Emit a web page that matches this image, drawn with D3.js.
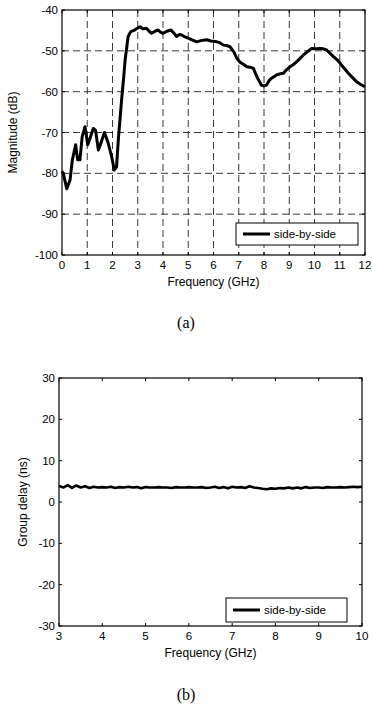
<!DOCTYPE html>
<html>
<head>
<meta charset="utf-8">
<script src="https://cdn.jsdelivr.net/npm/d3@7/dist/d3.min.js"></script>
<style>
  body { margin: 0; background: #fff; }
  svg { display: block; }
  text { font-family: "Liberation Sans", Arial, sans-serif; fill: #000; }
  .cap { font-family: "Liberation Serif", "Times New Roman", serif; }
</style>
</head>
<body>
<svg id="chart" width="372" height="708"></svg>
<script>
// ---- data ----
const magFreq = [0.0, 0.05, 0.19, 0.32, 0.41, 0.54, 0.62, 0.71, 0.80, 0.91, 1.02, 1.11, 1.24, 1.33, 1.44, 1.54, 1.68, 1.83, 1.97, 2.07, 2.16, 2.23, 2.36, 2.45, 2.5, 2.62, 2.72, 2.85, 2.95, 3.09, 3.2, 3.35, 3.45, 3.55, 3.65, 3.81, 3.9, 4.01, 4.15, 4.32, 4.45, 4.54, 4.65, 4.74, 4.87, 5.0, 5.15, 5.33, 5.5, 5.73, 5.9, 6.13, 6.25, 6.39, 6.52, 6.65, 6.8, 6.92, 7.05, 7.18, 7.32, 7.45, 7.58, 7.68, 7.78, 7.9, 7.98, 8.1, 8.2, 8.3, 8.4, 8.5, 8.65, 8.77, 8.9, 9.03, 9.15, 9.29, 9.42, 9.56, 9.7, 9.89, 10.05, 10.22, 10.35, 10.48, 10.6, 10.75, 10.9, 11.01, 11.15, 11.34, 11.5, 11.67, 11.85, 12.0];
const magDb = [-79.5, -80, -83.8, -81.6, -76.7, -73, -76.7, -76.7, -71, -68.6, -73, -71.4, -69, -69.5, -74.3, -72.6, -70, -72.6, -76, -79.2, -78.4, -71.8, -62, -56, -52.2, -46.5, -45.3, -45.0, -44.6, -44.1, -44.6, -44.5, -45.2, -45.7, -45.3, -44.9, -45.4, -45.7, -45.2, -44.9, -45.8, -46.5, -46.0, -46.1, -46.6, -46.9, -47.3, -47.8, -47.5, -47.3, -47.6, -47.8, -48.0, -48.6, -48.7, -49.0, -50.2, -51.8, -52.8, -53.3, -53.9, -54.0, -54.3, -55.8, -57.1, -58.4, -58.6, -58.4, -57.3, -56.7, -56.3, -55.9, -55.6, -55.5, -54.6, -53.9, -53.4, -52.7, -51.9, -51.0, -50.3, -49.4, -49.5, -49.4, -49.5, -49.8, -50.5, -51.4, -52.2, -53.0, -54.1, -55.5, -56.5, -57.6, -58.3, -58.8];

const gdFreq = [3.0, 3.1, 3.2, 3.3, 3.4, 3.5, 3.6, 3.7, 3.8, 3.9,
  4.0, 4.1, 4.2, 4.3, 4.4, 4.5, 4.6, 4.7, 4.8, 4.9,
  5.0, 5.1, 5.2, 5.3, 5.4, 5.5, 5.6, 5.7, 5.8, 5.9,
  6.0, 6.1, 6.2, 6.3, 6.4, 6.5, 6.6, 6.7, 6.8, 6.9,
  7.0, 7.1, 7.2, 7.3, 7.4, 7.5, 7.6, 7.7, 7.8, 7.9,
  8.0, 8.1, 8.2, 8.3, 8.4, 8.5, 8.6, 8.7, 8.8, 8.9,
  9.0, 9.1, 9.2, 9.3, 9.4, 9.5, 9.6, 9.7, 9.8, 9.9, 10.0];
const gdNs = [3.9, 3.5, 4.1, 3.4, 4.0, 3.5, 3.8, 3.4, 3.7, 3.5,
  3.6, 3.5, 3.7, 3.4, 3.6, 3.5, 3.7, 3.5, 3.6, 3.3,
  3.6, 3.5, 3.5, 3.6, 3.5, 3.5, 3.4, 3.6, 3.5, 3.5,
  3.6, 3.5, 3.5, 3.6, 3.4, 3.5, 3.7, 3.4, 3.6, 3.3,
  3.7, 3.5, 3.6, 3.4, 3.8, 3.5, 3.4, 3.2, 3.1, 3.3,
  3.2, 3.4, 3.3, 3.5, 3.3, 3.5, 3.3, 3.6, 3.4, 3.5,
  3.5, 3.4, 3.6, 3.5, 3.5, 3.6, 3.5, 3.6, 3.7, 3.6, 3.7];

const magXTicks = d3.range(0, 13);
const magYTicks = [-100, -90, -80, -70, -60, -50, -40];
const gdXTicks = d3.range(3, 11);
const gdYTicks = [-30, -20, -10, 0, 10, 20, 30];
const legendLabel = "side-by-side";

const svg = d3.select("#chart");

function drawPanel(o) {
  const x = d3.scaleLinear().domain(o.xDomain).range([o.left, o.right]);
  const y = d3.scaleLinear().domain(o.yDomain).range([o.bottom, o.top]);
  const g = svg.append("g");

  // dashed grid
  if (o.grid) {
    g.selectAll(".gx").data(o.xTicks.slice(1, -1)).enter().append("line")
      .attr("x1", d => x(d)).attr("x2", d => x(d))
      .attr("y1", o.top).attr("y2", o.bottom)
      .attr("stroke", "#222").attr("stroke-width", 0.9)
      .attr("stroke-dasharray", "7,4");
    g.selectAll(".gy").data(o.yTicks.slice(1, -1)).enter().append("line")
      .attr("y1", d => y(d)).attr("y2", d => y(d))
      .attr("x1", o.left).attr("x2", o.right)
      .attr("stroke", "#222").attr("stroke-width", 0.9)
      .attr("stroke-dasharray", "7,4");
  }

  // inward ticks on all sides
  const tl = 3;
  o.xTicks.forEach(t => {
    g.append("line").attr("x1", x(t)).attr("x2", x(t)).attr("y1", o.bottom).attr("y2", o.bottom - tl).attr("stroke", "#000");
    g.append("line").attr("x1", x(t)).attr("x2", x(t)).attr("y1", o.top).attr("y2", o.top + tl).attr("stroke", "#000");
  });
  o.yTicks.forEach(t => {
    g.append("line").attr("y1", y(t)).attr("y2", y(t)).attr("x1", o.left).attr("x2", o.left + tl).attr("stroke", "#000");
    g.append("line").attr("y1", y(t)).attr("y2", y(t)).attr("x1", o.right).attr("x2", o.right - tl).attr("stroke", "#000");
  });

  // frame
  g.append("rect").attr("x", o.left).attr("y", o.top)
    .attr("width", o.right - o.left).attr("height", o.bottom - o.top)
    .attr("fill", "none").attr("stroke", "#000").attr("stroke-width", 1.2);

  // tick labels
  g.selectAll(".xl").data(o.xTicks).enter().append("text")
    .attr("x", d => x(d)).attr("y", o.bottom + 14)
    .attr("text-anchor", "middle").style("font-size", "11.5px")
    .text(d => d);
  g.selectAll(".yl").data(o.yTicks).enter().append("text")
    .attr("x", o.left - 4).attr("y", d => y(d) + 4)
    .attr("text-anchor", "end").style("font-size", "11.5px")
    .text(d => d);

  // axis titles
  g.append("text").attr("x", (o.left + o.right) / 2).attr("y", o.bottom + 31)
    .attr("text-anchor", "middle").style("font-size", "12px").text("Frequency (GHz)");
  g.append("text")
    .attr("transform", `translate(${o.yLabelX},${(o.top + o.bottom) / 2}) rotate(-90)`)
    .attr("text-anchor", "middle").style("font-size", "12px").text(o.yLabel);

  // data line
  const line = d3.line().x(d => x(d[0])).y(d => y(d[1]));
  g.append("path").datum(d3.zip(o.xs, o.ys))
    .attr("d", line).attr("fill", "none")
    .attr("stroke", "#000").attr("stroke-width", o.lw)
    .attr("stroke-linejoin", "round");

  // legend
  const L = o.legend;
  g.append("rect").attr("x", L.x).attr("y", L.y).attr("width", L.w).attr("height", L.h)
    .attr("fill", "#fff").attr("stroke", "#000").attr("stroke-width", 1);
  g.append("line").attr("x1", L.x + 7).attr("x2", L.x + 34)
    .attr("y1", L.y + L.h / 2).attr("y2", L.y + L.h / 2)
    .attr("stroke", "#000").attr("stroke-width", 3);
  g.append("text").attr("x", L.x + 38).attr("y", L.y + L.h / 2 + 4)
    .style("font-size", "11.5px").text(legendLabel);

  // caption
  svg.append("text").attr("class", "cap").attr("x", 186).attr("y", o.capY)
    .attr("text-anchor", "middle").style("font-size", "16px").text(o.caption);
}

drawPanel({
  xDomain: [0, 12], yDomain: [-100, -40],
  left: 62, right: 365, top: 10, bottom: 255,
  xTicks: magXTicks, yTicks: magYTicks, grid: true,
  xs: magFreq, ys: magDb, lw: 3,
  yLabel: "Magnitude (dB)", yLabelX: 17,
  legend: { x: 236, y: 223, w: 122, h: 22 },
  caption: "(a)", capY: 328
});

drawPanel({
  xDomain: [3, 10], yDomain: [-30, 30],
  left: 59, right: 362, top: 378, bottom: 626,
  xTicks: gdXTicks, yTicks: gdYTicks, grid: false,
  xs: gdFreq, ys: gdNs, lw: 2.6,
  yLabel: "Group delay (ns)", yLabelX: 27,
  legend: { x: 226, y: 598, w: 121, h: 24 },
  caption: "(b)", capY: 700
});
</script>
</body>
</html>
